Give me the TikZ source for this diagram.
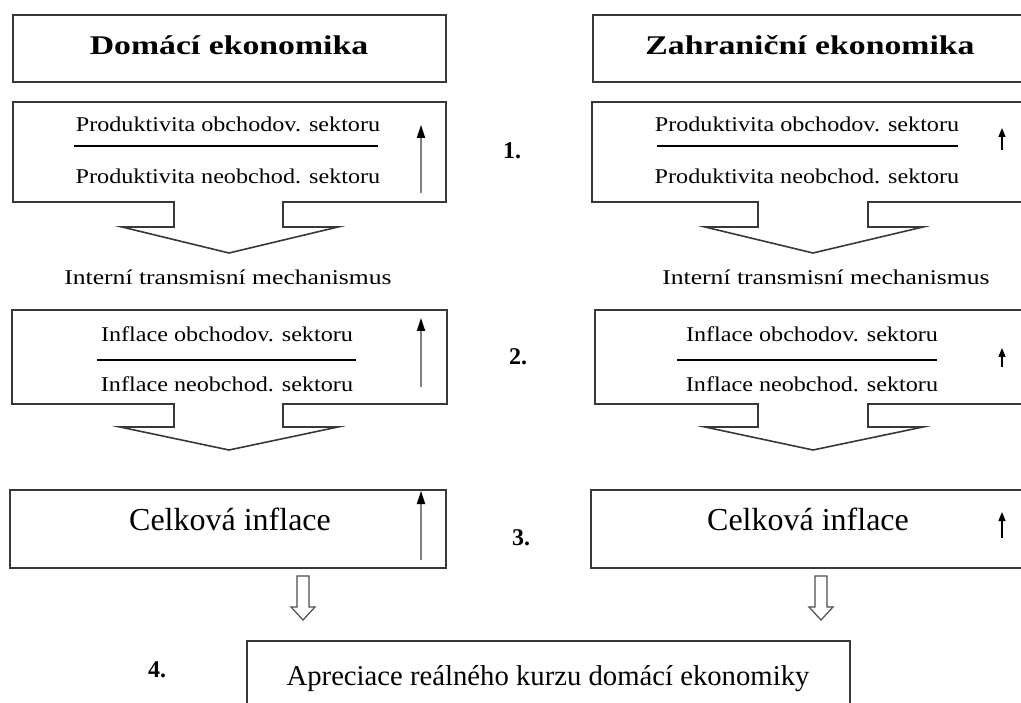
\documentclass[tikz,border=0pt]{standalone}
\usepackage{fontspec}
\setmainfont{Liberation Serif}
\newfontfamily\fracfont[FakeStretch=1.15]{Liberation Serif}
\newfontfamily\midfont[FakeStretch=1.22]{Liberation Serif}
\newfontfamily\headfont[FakeStretch=1.25]{Liberation Serif}
\usetikzlibrary{arrows.meta}
\begin{document}
\begin{tikzpicture}[x=1pt,y=-1pt,
  boxline/.style={draw=black!78, line width=1.6pt, line join=miter},
  fracline/.style={draw=black, line width=1.2pt},
  uparrow/.style={draw=black!50, line width=1.8pt, -{Triangle[color=black,length=13pt,width=8pt]}},
  smallup/.style={draw=black, line width=1.4pt, -{Triangle[length=9pt,width=7pt]}},
  hollow/.style={draw=black!70, line width=1.2pt, fill=white, line join=miter},
  txt/.style={inner sep=0pt, anchor=base},
  headtxt/.style={txt, font=\headfont\bfseries\fontsize{27}{30}\selectfont},
  fractxt/.style={txt, font=\fracfont\fontsize{21}{24}\selectfont},
  midtxt/.style={txt, font=\midfont\fontsize{21}{24}\selectfont},
  bigtxt/.style={txt, font=\fontsize{32}{36}\selectfont},
  numtxt/.style={txt, font=\bfseries\fontsize{24}{28}\selectfont}]
\useasboundingbox (0,0) rectangle (1021,703);
\fill[white] (0,0) rectangle (1021,703);
\clip (0,0) rectangle (1021,703);

% header boxes
\draw[boxline] (13,15) rectangle (446,82);
\draw[boxline] (593,15) rectangle (1030,82);
\node[headtxt] (h1) at (229,55) {Domácí ekonomika};
\node[headtxt] (h2) at (810,55) {Zahraniční ekonomika};

% level 1 callout boxes
\draw[boxline] (13,102) -- (446,102) -- (446,202) -- (283,202) -- (283,227) -- (338,227)
  -- (229,253) -- (122,227) -- (174,227) -- (174,202) -- (13,202) -- cycle;
\draw[boxline] (592,102) -- (1030,102) -- (1030,202) -- (868,202) -- (868,227) -- (923,227)
  -- (813,253) -- (705,227) -- (758,227) -- (758,202) -- (592,202) -- cycle;
\node[fractxt] (p1a) at (228,132) {Produktivita obchodov. sektoru};
\node[fractxt] (p1b) at (228,184) {Produktivita neobchod. sektoru};
\coordinate (p1l) at (74,146); \coordinate (p1r) at (378,146);
\draw[fracline] (p1l) -- (p1r);
\node[fractxt] (p2a) at (807,132) {Produktivita obchodov. sektoru};
\node[fractxt] (p2b) at (807,184) {Produktivita neobchod. sektoru};
\coordinate (p2l) at (657,146); \coordinate (p2r) at (958,146);
\draw[fracline] (p2l) -- (p2r);
\coordinate (u1s) at (421,193); \coordinate (u1e) at (421,125);
\draw[uparrow] (u1s) -- (u1e);
\coordinate (v1s) at (1002,150); \coordinate (v1e) at (1002,128);
\draw[smallup] (v1s) -- (v1e);

% transmission labels
\node[midtxt] (i1) at (228,285) {Interní transmisní mechanismus};
\node[midtxt] (i2) at (826,285) {Interní transmisní mechanismus};

% level 2 callout boxes
\draw[boxline] (12,310) -- (447,310) -- (447,404) -- (283,404) -- (283,427) -- (338,427)
  -- (229,450) -- (120,427) -- (174,427) -- (174,404) -- (12,404) -- cycle;
\draw[boxline] (595,310) -- (1030,310) -- (1030,404) -- (868,404) -- (868,427) -- (923,427)
  -- (813,450) -- (705,427) -- (758,427) -- (758,404) -- (595,404) -- cycle;
\node[fractxt] (f1a) at (227,342) {Inflace obchodov. sektoru};
\node[fractxt] (f1b) at (227,392) {Inflace neobchod. sektoru};
\coordinate (f1l) at (97,360); \coordinate (f1r) at (356,360);
\draw[fracline] (f1l) -- (f1r);
\node[fractxt] (f2a) at (812,342) {Inflace obchodov. sektoru};
\node[fractxt] (f2b) at (812,392) {Inflace neobchod. sektoru};
\coordinate (f2l) at (677,360); \coordinate (f2r) at (937,360);
\draw[fracline] (f2l) -- (f2r);
\coordinate (u2s) at (421,387); \coordinate (u2e) at (421,318);
\draw[uparrow] (u2s) -- (u2e);
\coordinate (v2s) at (1002,367); \coordinate (v2e) at (1002,348);
\draw[smallup] (v2s) -- (v2e);

% level 3 boxes
\draw[boxline] (10,490) rectangle (446,568);
\draw[boxline] (591,490) rectangle (1030,568);
\node[bigtxt] (c1) at (230,530) {Celková inflace};
\node[bigtxt] (c2) at (808,530) {Celková inflace};
\coordinate (u3s) at (421,560); \coordinate (u3e) at (421,491);
\draw[uparrow] (u3s) -- (u3e);
\coordinate (v3s) at (1002,538); \coordinate (v3e) at (1002,512);
\draw[smallup] (v3s) -- (v3e);

% hollow arrows
\draw[hollow] (297,576) -- (309,576) -- (309,607) -- (315,607) -- (303,620) -- (291,607) -- (297,607) -- cycle;
\draw[hollow] (815,576) -- (827,576) -- (827,607) -- (833,607) -- (821,620) -- (809,607) -- (815,607) -- cycle;

% bottom box
\draw[boxline] (247,641) rectangle (850,720);
\node[txt, font=\fontsize{28.7}{32}\selectfont] (ap) at (548,685) {Apreciace reálného kurzu domácí ekonomiky};

% step numbers
\node[numtxt] (n1) at (512,159) {1.};
\node[numtxt] (n2) at (518,365) {2.};
\node[numtxt] (n3) at (521,545) {3.};
\node[numtxt] (n4) at (157,677) {4.};
\end{tikzpicture}
\end{document}
